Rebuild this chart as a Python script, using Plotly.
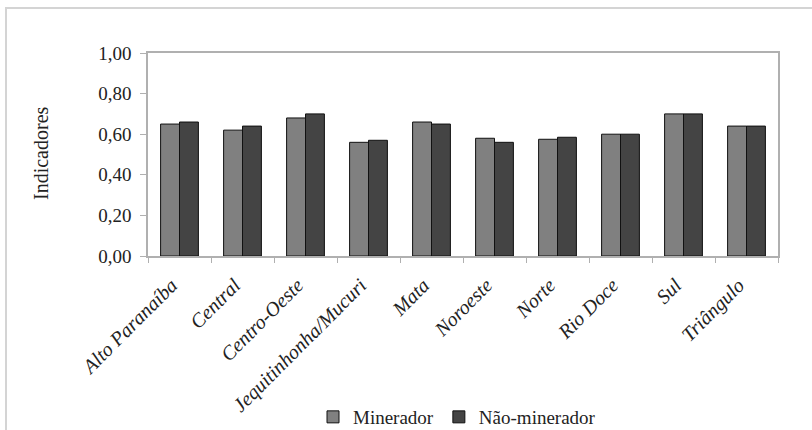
import plotly.graph_objects as go

# Regional indicators by mining status
regioes = ["Alto Paranaíba", "Central", "Centro-Oeste", "Jequitinhonha/Mucuri", "Mata",
           "Noroeste", "Norte", "Rio Doce", "Sul", "Triângulo"]
minerador = [0.65, 0.62, 0.68, 0.56, 0.66, 0.58, 0.575, 0.60, 0.70, 0.64]
nao_minerador = [0.66, 0.64, 0.70, 0.57, 0.65, 0.56, 0.585, 0.60, 0.70, 0.64]
y_ticks = [0.0, 0.2, 0.4, 0.6, 0.8, 1.0]
y_tick_text = ["0,00", "0,20", "0,40", "0,60", "0,80", "1,00"]

SERIF = "Liberation Serif"
W, H = 812, 430
L, R, T, B = 148, 34, 53, 174
pw, ph = W - L - R, H - T - B

fig = go.Figure()
fig.add_trace(go.Bar(x=regioes, y=minerador, name="Minerador",
                     marker=dict(color="#808080", line=dict(color="#111111", width=1))))
fig.add_trace(go.Bar(x=regioes, y=nao_minerador, name="Não-minerador",
                     marker=dict(color="#444444", line=dict(color="#111111", width=1))))


# pixel -> plot-area paper units
def px_x(v):
    return (v - L) / pw


def px_y(v):
    return (H - B - v) / ph


# outer chart frame, running off the right and bottom edges
fig.add_shape(type="rect", xref="paper", yref="paper",
              x0=px_x(6), x1=px_x(1000), y0=px_y(700), y1=px_y(8),
              line=dict(color="#d4d4d4", width=2), layer="below")

# vertical axis title
fig.add_annotation(text="Indicadores", xref="paper", yref="paper",
                   x=px_x(41), y=px_y(153), xanchor="center", yanchor="middle",
                   textangle=-90, showarrow=False,
                   font=dict(family=SERIF, size=20, color="#222222"))

fig.update_layout(
    width=W, height=H,
    margin=dict(l=L, r=R, t=T, b=B, autoexpand=False),
    paper_bgcolor="white", plot_bgcolor="white",
    barmode="group", bargap=0.4, bargroupgap=0,
    font=dict(family=SERIF, color="#222222"),
    showlegend=True,
    legend=dict(orientation="h", x=px_x(457), xanchor="center",
                y=px_y(417), yanchor="middle",
                font=dict(family=SERIF, size=19, color="#222222"),
                itemwidth=30, bgcolor="rgba(0,0,0,0)"),
    xaxis=dict(
        type="category", tickson="boundaries", automargin=False,
        showline=True, linecolor="#b0b0b0", linewidth=1.5, mirror=True,
        ticks="outside", ticklen=5, tickcolor="#b0b0b0",
        tickangle=-45, showgrid=False, ticklabelstandoff=8, ticklabelshift=-8,
        tickfont=dict(family=SERIF, size=20, style="italic", color="#222222"),
    ),
    yaxis=dict(
        range=[0, 1.0], tickvals=y_ticks, ticktext=y_tick_text, automargin=False,
        showline=True, linecolor="#b0b0b0", linewidth=1.5, mirror=True,
        ticks="outside", ticklen=6, tickcolor="#b0b0b0",
        showgrid=False, zeroline=False, ticklabelstandoff=5,
        tickfont=dict(family=SERIF, size=19, color="#222222"),
    ),
)

fig.write_html("out.html")
